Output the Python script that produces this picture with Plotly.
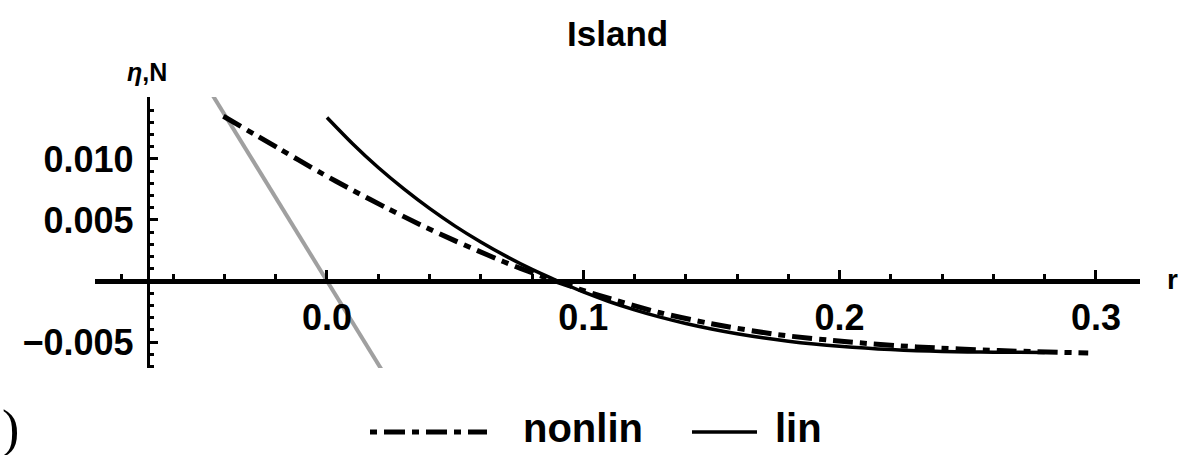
import plotly.graph_objects as go

# ---- data ----
nonlin_r = [-0.0404, -0.0183, -0.0027, 0.0102, 0.0233, 0.0364, 0.0494, 0.0625, 0.0755, 0.0890,
            0.1065, 0.130, 0.150, 0.176, 0.204, 0.230, 0.262, 0.297]
nonlin_v = [0.0135, 0.0108, 0.0089, 0.00742, 0.00598, 0.00462, 0.00335, 0.00215, 0.00103, 0.0000,
            -0.0012, -0.0026, -0.0035, -0.0044, -0.0050, -0.0054, -0.0057, -0.0059]

lin_r = [0.00, 0.01, 0.02, 0.03, 0.04, 0.05, 0.06, 0.07, 0.08, 0.09,
         0.10, 0.11, 0.12, 0.13, 0.14, 0.15, 0.16, 0.17, 0.18, 0.19,
         0.20, 0.21, 0.22, 0.23, 0.24, 0.25, 0.26, 0.27, 0.28]
lin_v = [0.0134, 0.01125, 0.0093, 0.00755, 0.00595, 0.0045, 0.0032, 0.00202, 0.00095, 0.0000,
         -0.0009, -0.00168, -0.00236, -0.00296, -0.00348, -0.00393, -0.00432, -0.00465, -0.00493, -0.00516,
         -0.00535, -0.0055, -0.00562, -0.00571, -0.00577, -0.00581, -0.00583, -0.00584, -0.00585]

gray_r = [-0.046, 0.0, 0.022]
gray_v = [0.0157, 0.0, -0.0075]

x_ticks = [0.0, 0.1, 0.2, 0.3]
x_ticktext = ["0.0", "0.1", "0.2", "0.3"]
y_ticks = [-0.005, 0.005, 0.010]
y_ticktext = ["\u22120.005", "0.005", "0.010"]

title_text = "Island"
legend_names = ["nonlin", "lin"]

# ---- layout constants ----
W, H = 1179, 455
ML, MR, MT, MB = 95, 39, 97, 87
PW = W - ML - MR
PH = H - MT - MB

def px(x):
    return (x - ML) / PW

def py(y):
    return (MT + PH - y) / PH

XR = [-0.0905, 0.3172]
YR = [-0.00713, 0.01508]

FONT = "Liberation Sans"
DASH = "20px,7px,7px,7px"

fig = go.Figure()
fig.add_trace(go.Scatter(x=gray_r, y=gray_v, mode="lines",
                         line=dict(color="#a0a0a0", width=4), showlegend=False))
fig.add_trace(go.Scatter(x=nonlin_r, y=nonlin_v, mode="lines",
                         line=dict(color="black", width=5, dash=DASH, shape="spline", smoothing=0.8),
                         name=legend_names[0], showlegend=False))
fig.add_trace(go.Scatter(x=lin_r, y=lin_v, mode="lines",
                         line=dict(color="black", width=3.5, shape="spline", smoothing=0.8),
                         name=legend_names[1], showlegend=False))

y0_frac = (0 - YR[0]) / (YR[1] - YR[0])
x0_frac = (-0.07 - XR[0]) / (XR[1] - XR[0])

fig.update_layout(
    width=W, height=H,
    margin=dict(l=ML, r=MR, t=MT, b=MB),
    paper_bgcolor="white", plot_bgcolor="white",
    showlegend=False,
    xaxis=dict(range=XR, anchor="free", position=y0_frac,
               showgrid=False, zeroline=False,
               showline=True, linecolor="black", linewidth=4.5,
               tickmode="array", tickvals=x_ticks, ticktext=x_ticktext,
               ticks="inside", ticklen=9, tickwidth=3, tickcolor="black",
               ticklabelstandoff=3,
               tickfont=dict(family=FONT, size=36, color="black", weight="bold"),
               minor=dict(tickmode="linear", tick0=0, dtick=0.02, ticks="inside",
                          ticklen=5, tickwidth=3, tickcolor="black")),
    yaxis=dict(range=YR, anchor="free", position=x0_frac,
               showgrid=False, zeroline=False,
               showline=True, linecolor="black", linewidth=2.5,
               tickmode="array", tickvals=y_ticks, ticktext=y_ticktext,
               ticks="inside", ticklen=9, tickwidth=3, tickcolor="black",
               ticklabelstandoff=6,
               tickfont=dict(family=FONT, size=36, color="black", weight="bold"),
               minor=dict(tickmode="linear", tick0=0, dtick=0.001, ticks="inside",
                          ticklen=5, tickwidth=3, tickcolor="black")),
)

ann = []
ann.append(dict(text=title_text, xref="paper", yref="paper", x=px(617), y=py(33),
                showarrow=False, xanchor="center", yanchor="middle",
                font=dict(family=FONT, size=35, color="black", weight="bold")))
ann.append(dict(text="<i>\u03b7</i>,N", xref="paper", yref="paper", x=px(147), y=py(72),
                showarrow=False, xanchor="center", yanchor="middle",
                font=dict(family=FONT, size=25, color="black", weight="bold")))
ann.append(dict(text="r", xref="paper", yref="paper", x=px(1172), y=py(279),
                showarrow=False, xanchor="center", yanchor="middle",
                font=dict(family=FONT, size=28, color="black", weight="bold")))
ann.append(dict(text=legend_names[0], xref="paper", yref="paper", x=px(521), y=py(428),
                showarrow=False, xanchor="left", yanchor="middle",
                font=dict(family=FONT, size=40, color="black", weight="bold")))
ann.append(dict(text=legend_names[1], xref="paper", yref="paper", x=px(773), y=py(428),
                showarrow=False, xanchor="left", yanchor="middle",
                font=dict(family=FONT, size=40, color="black", weight="bold")))
ann.append(dict(text=")", xref="paper", yref="paper", x=px(0), y=py(429),
                showarrow=False, xanchor="left", yanchor="middle",
                font=dict(family="Liberation Serif", size=52, color="black")))
fig.update_layout(annotations=ann)

shapes = [
    dict(type="line", xref="paper", yref="paper", x0=px(370), x1=px(487), y0=py(432), y1=py(432),
         line=dict(color="black", width=5, dash="7px,7px,21px,7px")),
    dict(type="line", xref="paper", yref="paper", x0=px(692), x1=px(757), y0=py(432), y1=py(432),
         line=dict(color="black", width=3.5)),
]
fig.update_layout(shapes=shapes)

fig.write_html("out.html",
               config={"displayModeBar": False},
               post_script="document.body.style.margin='0';document.body.style.overflow='hidden';")
